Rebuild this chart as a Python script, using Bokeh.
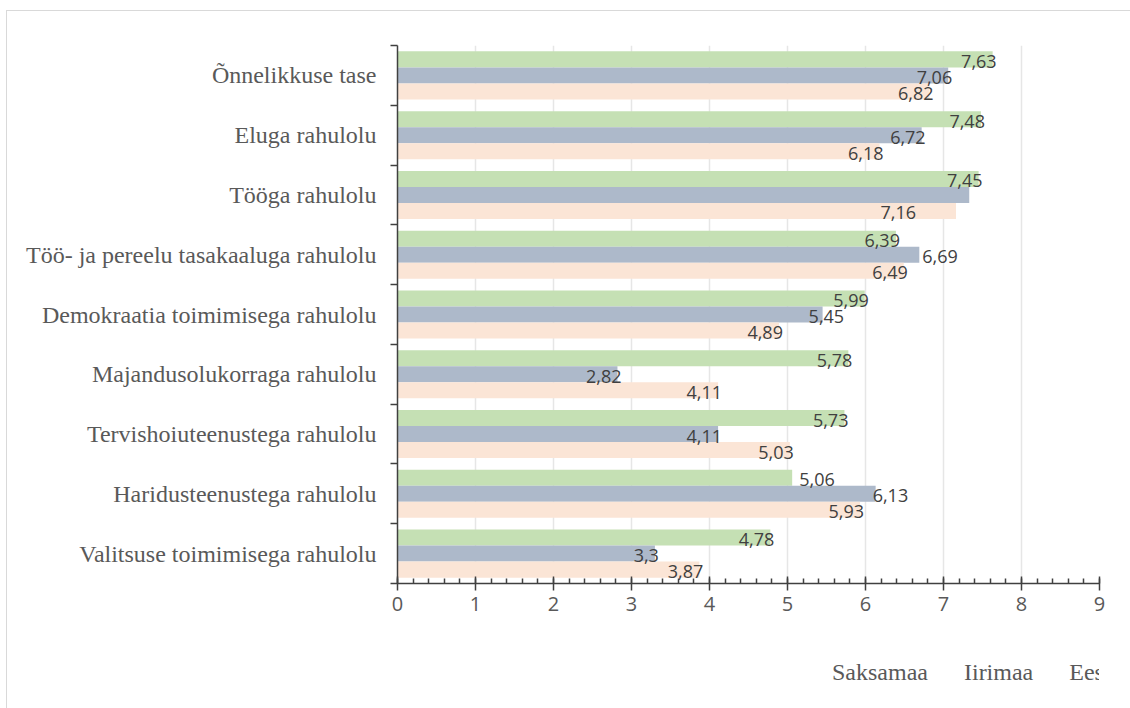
from bokeh.plotting import figure
from bokeh.layouts import column
from bokeh.models import (Range1d, FixedTicker, SingleIntervalTicker, ColumnDataSource,
                          Legend, LegendItem)
from bokeh.embed import file_html
from bokeh.resources import INLINE
from bokeh.core.properties import value

# ---------------- data ----------------
categories = [
    "Õnnelikkuse tase",
    "Eluga rahulolu",
    "Tööga rahulolu",
    "Töö- ja pereelu tasakaaluga rahulolu",
    "Demokraatia toimimisega rahulolu",
    "Majandusolukorraga rahulolu",
    "Tervishoiuteenustega rahulolu",
    "Haridusteenustega rahulolu",
    "Valitsuse toimimisega rahulolu",
]
saksamaa = [7.63, 7.48, 7.45, 6.39, 5.99, 5.78, 5.73, 5.06, 4.78]
iirimaa = [7.06, 6.72, 7.33, 6.69, 5.45, 2.82, 4.11, 6.13, 3.30]
eesti = [6.82, 6.18, 7.16, 6.49, 4.89, 4.11, 5.03, 5.93, 3.87]
series_names = ["Saksamaa", "Iirimaa", "Eesti"]
x_ticks = [0, 1, 2, 3, 4, 5, 6, 7, 8, 9]

# ---------------- styles ----------------
colors = ["#c5e0b4", "#adb9ca", "#fbe5d6"]
bar_h = 0.268
offsets = [-bar_h, 0.0, bar_h]  # flipped y-range: negative = higher
# label placement exceptions (row, series) -> (align, pixel offset)
label_nudge = {
    (7, 0): ("left", 7),
    (7, 1): ("left", -3),
    (3, 1): ("left", 3),
    (4, 1): ("left", -14),
    (2, 2): ("right", -40),
}
hidden_labels = {(2, 1)}

def fmt(v):
    return ("%g" % v).replace(".", ",")

p = figure(frame_width=702, frame_height=538, output_backend="svg", toolbar_location=None,
           x_range=Range1d(0, 9), y_range=Range1d(start=8.5, end=-0.5),
           min_border_left=390, min_border_right=31, min_border_top=34,
           min_border_bottom=60)
p.outline_line_color = None
p.background_fill_color = "white"
p.border_fill_color = "white"

rows = list(range(len(categories)))
all_series = [saksamaa, iirimaa, eesti]
for s, vals in enumerate(all_series):
    src = ColumnDataSource(dict(y=[r + offsets[s] for r in rows], right=vals))
    p.hbar(y="y", left=0, right="right", height=bar_h, source=src,
           fill_color=colors[s], line_color=None)

# data labels
lx, ly, lt, la, lo = [], [], [], [], []
for s, vals in enumerate(all_series):
    for r, v in enumerate(vals):
        if (r, s) in hidden_labels:
            continue
        align, off = label_nudge.get((r, s), ("right", 4))
        lx.append(v)
        ly.append(r + offsets[s])
        lt.append(fmt(v))
        la.append(align)
        lo.append(off)
lsrc = ColumnDataSource(dict(x=lx, y=ly, text=lt, align=la, off=lo))
p.text(x="x", y="y", text="text", source=lsrc, text_align="align", x_offset="off",
       y_offset=2, text_baseline="middle", text_font=value("Open Sans"),
       text_font_size="18px", text_color="#404040")

# x axis
xa = p.xaxis[0]
xa.ticker = SingleIntervalTicker(interval=1, num_minor_ticks=5)
xa.axis_line_color = "#404040"
xa.axis_line_width = 1.5
xa.major_tick_line_color = "#404040"
xa.major_tick_line_width = 1.5
xa.major_tick_in = 7
xa.major_tick_out = 7
xa.minor_tick_line_color = "#404040"
xa.minor_tick_line_width = 1.5
xa.minor_tick_in = 5
xa.minor_tick_out = 0
xa.major_label_text_font = "Open Sans"
xa.major_label_text_font_size = "20px"
xa.major_label_text_color = "#595959"
xa.major_label_standoff = 6

# y axis
ya = p.yaxis[0]
ya.ticker = FixedTicker(ticks=rows, minor_ticks=[i - 0.5 for i in range(len(categories) + 1)])
ya.major_label_overrides = {i: c for i, c in enumerate(categories)}
ya.axis_line_color = "#404040"
ya.axis_line_width = 1.5
ya.major_tick_in = 0
ya.major_tick_out = 0
ya.minor_tick_line_color = "#404040"
ya.minor_tick_line_width = 1.5
ya.minor_tick_in = 0
ya.minor_tick_out = 7
ya.major_label_text_font = "Liberation Serif"
ya.major_label_text_font_size = "24px"
ya.major_label_text_color = "#595959"
ya.major_label_standoff = 14

p.xgrid.grid_line_color = "#e6e6e6"
p.xgrid.grid_line_width = 1.5
p.xgrid.ticker = FixedTicker(ticks=x_ticks)
p.ygrid.grid_line_color = None

# ---------------- legend strip (separate small figure) ----------------
leg = figure(width=1123, height=65, output_backend="svg", toolbar_location=None,
             x_range=Range1d(0, 1), y_range=Range1d(0, 1),
             x_axis_location=None, y_axis_location=None,
             min_border_left=0, min_border_right=0, min_border_top=0, min_border_bottom=0)
leg.outline_line_color = None
leg.grid.grid_line_color = None
leg.background_fill_color = "white"
leg.border_fill_color = "white"
dummies = []
for s in range(len(series_names)):
    dummies.append(leg.hbar(y=[], right=[], height=0.5, fill_color=colors[s], line_color=None))
legend = Legend(items=[LegendItem(label=n, renderers=[r]) for n, r in zip(series_names, dummies)],
                orientation="horizontal", location=(420, 22),
                glyph_width=12, glyph_height=12, label_standoff=3, spacing=21,
                padding=0, margin=0, border_line_color=None, background_fill_alpha=0,
                label_text_font="Liberation Serif", label_text_font_size="24px",
                label_text_color="#595959")
leg.add_layout(legend, "center")

layout = column(p, leg, spacing=0,
                styles={"margin-left": "6px", "margin-top": "10px",
                        "border-left": "1px solid #d9d9d9", "border-top": "1px solid #d9d9d9"})

open("out.html", "w").write(file_html(layout, INLINE))
